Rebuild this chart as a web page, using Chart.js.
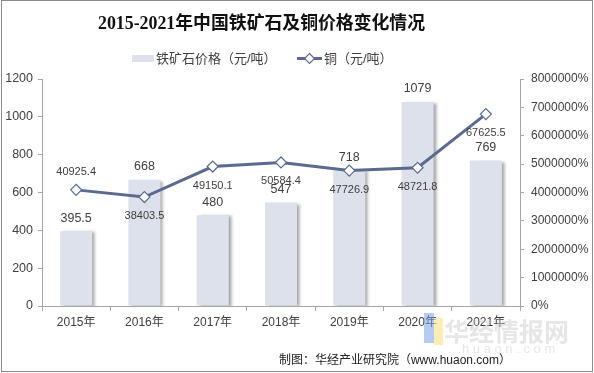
<!DOCTYPE html>
<html>
<head>
<meta charset="utf-8">
<script src="https://cdn.jsdelivr.net/npm/chart.js@4.4.0/dist/chart.umd.min.js"></script>
<style>
  html, body { margin: 0; padding: 0; background: #fff; }
  #wrap { width: 594px; height: 373px; position: relative; }
</style>
</head>
<body>
<div id="wrap"><canvas id="chart" width="594" height="373"></canvas></div>
<script>
// ── Data ──
const years = ['2015年', '2016年', '2017年', '2018年', '2019年', '2020年', '2021年'];
const ironOre = [395.5, 668, 480, 547, 718, 1079, 769];
const copper = [40925.4, 38403.5, 49150.1, 50584.4, 47726.9, 48721.8, 67625.5];
const copperLabelAbove = [true, false, false, false, false, false, false];

const titleText = '2015-2021年中国铁矿石及铜价格变化情况';
const oreName = '铁矿石价格（元/吨）';
const copperName = '铜（元/吨）';
const sourceText = '制图：华经产业研究院（www.huaon.com）';

// ── Colours ──
const BAR = '#dde1eb';
const LINE = '#5b6a8e';
const AXIS = '#a6a6a6';
const TEXT = '#404040';
const SANS = '"Liberation Sans", "Noto Sans CJK SC", sans-serif';

// ── Decorations: title, legend, labels, source, border ──
const decor = {
  id: 'decor',
  beforeDatasetDraw(chart, args) {
    if (args.meta.type === 'bar') {
      const ctx = chart.ctx;
      ctx.save();
      ctx.shadowColor = 'rgba(0,0,0,0.35)';
      ctx.shadowOffsetX = 3;
      ctx.shadowOffsetY = 1;
      ctx.shadowBlur = 3;
    }
  },
  afterDatasetDraw(chart, args) {
    if (args.meta.type === 'bar') chart.ctx.restore();
  },
  afterDraw(chart) {
    const ctx = chart.ctx;
    ctx.save();

    // title (condensed serif bold)
    ctx.font = 'bold 18px "Liberation Serif", "Noto Sans CJK SC", serif';
    ctx.fillStyle = '#111';
    ctx.textBaseline = 'middle';
    const tw = ctx.measureText(titleText).width;
    ctx.save();
    ctx.translate(98, 24);
    ctx.scale(327 / tw, 1);
    ctx.textAlign = 'left';
    ctx.fillText(titleText, 0, 0);
    ctx.restore();

    // legend
    ctx.font = '13px ' + SANS;
    ctx.fillStyle = BAR;
    ctx.fillRect(132, 55, 22, 7);
    ctx.fillStyle = TEXT;
    ctx.textAlign = 'left';
    ctx.fillText(oreName, 156, 59);
    ctx.strokeStyle = LINE;
    ctx.lineWidth = 3;
    ctx.beginPath();
    ctx.moveTo(297, 58.5);
    ctx.lineTo(322, 58.5);
    ctx.stroke();
    drawDiamond(ctx, 309.5, 58.5, 5);
    ctx.fillStyle = TEXT;
    ctx.fillText(copperName, 324, 59);

    // bar value labels
    const barMeta = chart.getDatasetMeta(1);
    ctx.font = '12.5px ' + SANS;
    ctx.textAlign = 'center';
    ctx.fillStyle = TEXT;
    barMeta.data.forEach((el, i) => {
      ctx.fillText(String(ironOre[i]), el.x, el.y - 13);
    });

    // line value labels
    const lineMeta = chart.getDatasetMeta(0);
    ctx.font = '11px ' + SANS;
    lineMeta.data.forEach((el, i) => {
      const dy = copperLabelAbove[i] ? -18 : 19;
      ctx.fillText(copper[i].toFixed(1), el.x, el.y + dy);
    });

    // watermark
    ctx.font = 'bold 25px "Noto Sans CJK SC", sans-serif';
    ctx.fillStyle = 'rgba(200,200,200,0.45)';
    ctx.textAlign = 'left';
    ctx.fillText('华经情报网', 444, 331);
    ctx.font = '13px ' + SANS;
    ctx.fillText('h u a o n . c o m', 462, 349);
    ctx.fillStyle = 'rgba(120,160,230,0.55)';
    ctx.fillRect(424, 313, 10, 30);
    ctx.fillStyle = 'rgba(250,220,120,0.55)';
    ctx.fillRect(434, 318, 9, 27);

    // source
    ctx.font = '12px ' + SANS;
    ctx.fillStyle = '#222';
    ctx.textAlign = 'right';
    ctx.fillText(sourceText, 511, 361);

    // frame
    ctx.strokeStyle = '#8c8c8c';
    ctx.lineWidth = 1;
    ctx.strokeRect(1.5, 0.5, 591, 371);
    ctx.restore();
  }
};

function drawDiamond(ctx, x, y, r) {
  ctx.beginPath();
  ctx.moveTo(x, y - r);
  ctx.lineTo(x + r, y);
  ctx.lineTo(x, y + r);
  ctx.lineTo(x - r, y);
  ctx.closePath();
  ctx.fillStyle = '#fff';
  ctx.fill();
  ctx.strokeStyle = LINE;
  ctx.lineWidth = 1.2;
  ctx.stroke();
}

// ── Chart ──
new Chart(document.getElementById('chart').getContext('2d'), {
  data: {
    labels: years,
    datasets: [
      {
        type: 'line',
        label: copperName,
        data: copper,
        yAxisID: 'y1',
        order: 0,
        borderColor: LINE,
        borderWidth: 3,
        tension: 0,
        pointStyle: 'rectRot',
        pointRadius: 5.5,
        pointBackgroundColor: '#fff',
        pointBorderColor: LINE,
        pointBorderWidth: 1.2,
      },
      {
        type: 'bar',
        label: oreName,
        data: ironOre,
        yAxisID: 'y',
        order: 1,
        backgroundColor: BAR,
        barPercentage: 0.47,
        categoryPercentage: 1,
      },
    ],
  },
  options: {
    responsive: false,
    animation: false,
    layout: { padding: { top: 79, left: 0, right: 0, bottom: 0 } },
    plugins: {
      legend: { display: false },
      title: { display: false },
      tooltip: { enabled: false },
    },
    scales: {
      x: {
        offset: true,
        grid: { offset: true, drawOnChartArea: false, tickLength: 5, color: AXIS },
        border: { color: AXIS },
        ticks: { color: TEXT, font: { size: 12, family: SANS }, padding: 4 },
        afterFit: s => { s.height = 67; },
      },
      y: {
        position: 'left',
        min: 0,
        max: 1200,
        ticks: {
          stepSize: 200,
          color: TEXT,
          font: { size: 12.5, family: SANS },
          padding: 5,
          callback: v => String(v),
        },
        grid: { drawOnChartArea: false, tickLength: 4, color: AXIS },
        border: { color: AXIS },
        afterFit: s => { s.width = 42; },
      },
      y1: {
        position: 'right',
        min: 0,
        max: 80000,
        ticks: {
          stepSize: 10000,
          color: TEXT,
          font: { size: 12, family: SANS },
          padding: 7,
          callback: v => (v * 100) + '%',
        },
        grid: { drawOnChartArea: false, tickLength: 4, color: AXIS },
        border: { color: AXIS },
        afterFit: s => { s.width = 74; },
      },
    },
  },
  plugins: [decor],
});
</script>
</body>
</html>
